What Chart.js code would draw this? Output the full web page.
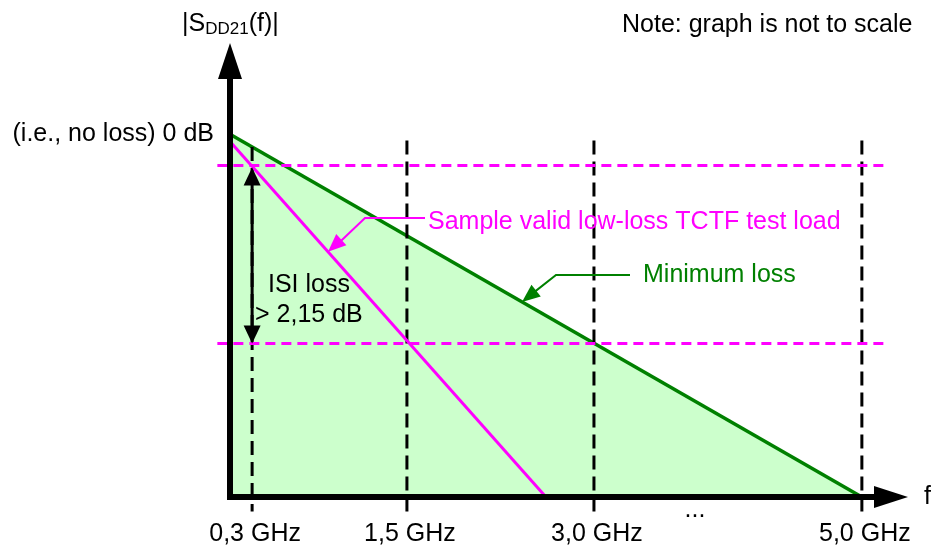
<!DOCTYPE html>
<html>
<head>
<meta charset="utf-8">
<script src="https://cdn.jsdelivr.net/npm/chart.js@4"></script>
<style>
  body { margin: 0; background: #fff; }
  #wrap { width: 938px; height: 550px; }
</style>
</head>
<body>
<div id="wrap"><canvas id="sdd21-chart"></canvas></div>
<script>
// schematic chart (not to scale): x = drawing position, y = relative level
var tickLabels = ['0,3 GHz', '1,5 GHz', '3,0 GHz', '5,0 GHz'];
var tickX = [0.35, 2.8, 5.76, 10];
var minLossX = [0, 10];
var minLossY = [10, 0];
var sampleX = [0, 5.0];
var sampleY = [9.8, 0];
var isiLevels = [9.14, 4.23];
var dashTop = 9.83;
var dashBottom = -0.4;
var hLineX = [-0.2, 10.4];
var isiText = ['ISI loss', '> 2,15 dB'];

var GREEN = '#008000';
var MAGENTA = '#ff00ff';
var FONT = '25px "Liberation Sans", Arial, sans-serif';

function lineAt(xs, ys, x) {
  return ys[0] + (ys[1] - ys[0]) * (x - xs[0]) / (xs[1] - xs[0]);
}

var datasets = [];

datasets.push({
  data: minLossX.map(function (x, i) { return { x: x, y: minLossY[i] }; }),
  borderColor: GREEN,
  borderWidth: 3.5,
  backgroundColor: '#ccffcc',
  fill: 'origin',
  pointRadius: 0,
  order: 10
});

datasets.push({
  data: sampleX.map(function (x, i) { return { x: x, y: sampleY[i] }; }),
  borderColor: MAGENTA,
  borderWidth: 3,
  fill: false,
  pointRadius: 0,
  order: 1
});

// vertical dashed markers
tickX.forEach(function (x, i) {
  var top = i === 0 ? lineAt(minLossX, minLossY, x) : dashTop;
  datasets.push({
    data: [{ x: x, y: top }, { x: x, y: dashBottom }],
    borderColor: '#000',
    borderWidth: 3,
    borderDash: [14, 7],
    fill: false,
    pointRadius: 0,
    clip: false,
    order: 5
  });
});

// horizontal ISI levels
isiLevels.forEach(function (lvl) {
  datasets.push({
    data: hLineX.map(function (x) { return { x: x, y: lvl }; }),
    borderColor: MAGENTA,
    borderWidth: 3,
    borderDash: [10, 6],
    fill: false,
    pointRadius: 0,
    clip: false,
    order: 2
  });
});

function arrowHead(ctx, tx, ty, fx, fy, len, half) {
  var a = Math.atan2(ty - fy, tx - fx);
  var bx = tx - len * Math.cos(a), by = ty - len * Math.sin(a);
  ctx.beginPath();
  ctx.moveTo(tx, ty);
  ctx.lineTo(bx + half * Math.sin(a), by - half * Math.cos(a));
  ctx.lineTo(bx - half * Math.sin(a), by + half * Math.cos(a));
  ctx.closePath();
  ctx.fill();
}

var decorations = {
  id: 'decorations',
  afterDatasetsDraw: function (chart) {
    var ctx = chart.ctx;
    var xs = chart.scales.x, ys = chart.scales.y;
    var area = chart.chartArea;
    var x0 = xs.getPixelForValue(0), y0 = ys.getPixelForValue(0);
    ctx.save();

    // axes
    ctx.strokeStyle = '#000';
    ctx.fillStyle = '#000';
    ctx.lineWidth = 6;
    ctx.beginPath();
    ctx.moveTo(x0, y0 + 3);
    ctx.lineTo(x0, area.top + 34);
    ctx.moveTo(x0 - 3, y0);
    ctx.lineTo(area.right - 32, y0);
    ctx.stroke();
    arrowHead(ctx, x0, area.top - 2, x0, y0, 36, 12);
    arrowHead(ctx, area.right, y0, x0, y0, 34, 11);

    // ISI double arrow
    var ax = xs.getPixelForValue(tickX[0]);
    var yTop = ys.getPixelForValue(isiLevels[0]) + 2;
    var yBot = ys.getPixelForValue(isiLevels[1]);
    ctx.lineWidth = 3;
    ctx.beginPath();
    ctx.moveTo(ax, yTop + 12);
    ctx.lineTo(ax, yBot - 12);
    ctx.stroke();
    arrowHead(ctx, ax, yTop, ax, yBot, 18, 8.5);
    arrowHead(ctx, ax, yBot, ax, yTop, 18, 8.5);

    // text
    ctx.font = FONT;
    ctx.textBaseline = 'middle';
    ctx.fillStyle = '#000';
    ctx.textAlign = 'center';
    tickLabels.forEach(function (t, i) {
      ctx.fillText(t, xs.getPixelForValue(tickX[i]) + 3, 534);
    });
    ctx.fillText('...', 695, 510);
    ctx.textAlign = 'left';
    ctx.fillText('f', 924, 497);
    ctx.fillText(isiText[0], 268, 285);
    ctx.fillText(isiText[1], 255, 315);
    ctx.textAlign = 'right';
    ctx.fillText('(i.e., no loss) 0 dB', 214, ys.getPixelForValue(minLossY[0]));
    ctx.textAlign = 'left';
    ctx.fillText('Note: graph is not to scale', 622, 25);

    // |SDD21(f)| with subscript
    var sx = 182;
    ctx.textBaseline = 'alphabetic';
    ctx.fillText('|S', sx, 31);
    sx += ctx.measureText('|S').width;
    ctx.font = '17px "Liberation Sans", Arial, sans-serif';
    ctx.fillText('DD21', sx, 34);
    sx += ctx.measureText('DD21').width;
    ctx.font = FONT;
    ctx.fillText('(f)|', sx, 31);

    // sample load annotation
    ctx.textBaseline = 'middle';
    ctx.strokeStyle = MAGENTA;
    ctx.fillStyle = MAGENTA;
    ctx.lineWidth = 2;
    var mTipX = 328, mTipY = ys.getPixelForValue(lineAt(sampleX, sampleY, xs.getValueForPixel(328)));
    ctx.beginPath();
    ctx.moveTo(425, 218);
    ctx.lineTo(365, 218);
    ctx.lineTo(mTipX + 10, mTipY - 8);
    ctx.stroke();
    arrowHead(ctx, mTipX, mTipY, 365, 218, 18, 7.5);
    ctx.fillText('Sample valid low-loss TCTF test load', 428, 222);

    // minimum loss annotation
    ctx.strokeStyle = GREEN;
    ctx.fillStyle = GREEN;
    var gTipX = 522, gTipY = ys.getPixelForValue(lineAt(minLossX, minLossY, xs.getValueForPixel(522)));
    ctx.beginPath();
    ctx.moveTo(630, 275);
    ctx.lineTo(556, 275);
    ctx.lineTo(gTipX + 10, gTipY - 8);
    ctx.stroke();
    arrowHead(ctx, gTipX, gTipY, 556, 275, 18, 7.5);
    ctx.fillText('Minimum loss', 643, 275);

    ctx.restore();
  }
};

var ctx = document.getElementById('sdd21-chart').getContext('2d');
var myChart = new Chart(ctx, {
  type: 'line',
  data: { datasets: datasets },
  plugins: [decorations],
  options: {
    responsive: true,
    maintainAspectRatio: false,
    animation: false,
    layout: { padding: { left: 230, right: 30, top: 45, bottom: 53 } },
    scales: {
      x: { type: 'linear', min: 0, max: 10.73, display: false },
      y: { type: 'linear', min: 0, max: 12.46, display: false }
    },
    plugins: {
      legend: { display: false },
      tooltip: { enabled: false }
    }
  }
});
</script>
</body>
</html>
